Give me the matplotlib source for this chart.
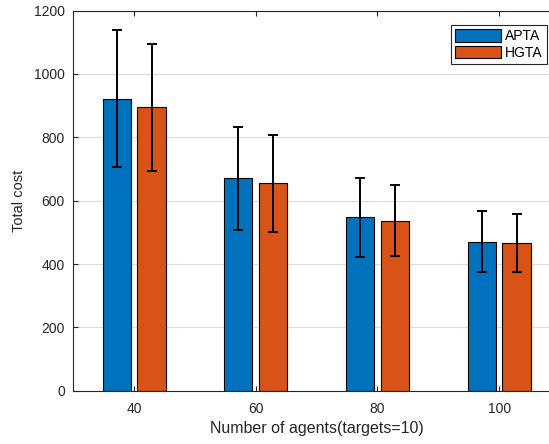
import numpy as np
import matplotlib
matplotlib.use("Agg")
import matplotlib.pyplot as plt

plt.rcParams['font.family'] = ['Liberation Sans', 'DejaVu Sans']

agents = ['40', '60', '80', '100']
apta = [922, 671, 547, 471]
apta_err = [216, 163, 124, 96]
hgta = [895, 655, 537, 467]
hgta_err = [200, 153, 112, 91]

blue = '#0072BD'
orange = '#D95319'
dark = '#262626'

fig = plt.figure(figsize=(5.49, 4.44), dpi=100)
ax = fig.add_axes([0.1335, 0.12, 0.8865, 0.856])

x = np.arange(1, len(agents) + 1)
off = 0.1435
w = 0.232

ax.bar(x - off, apta, w, color=blue, edgecolor='black', linewidth=0.8, label='APTA', zorder=2)
ax.bar(x + off, hgta, w, color=orange, edgecolor='black', linewidth=0.8, label='HGTA', zorder=2)
ax.errorbar(x - off, apta, yerr=apta_err, fmt='none', ecolor='black', elinewidth=1.4, capsize=3.4, capthick=1.4, zorder=3)
ax.errorbar(x + off, hgta, yerr=hgta_err, fmt='none', ecolor='black', elinewidth=1.4, capsize=3.4, capthick=1.4, zorder=3)

ax.set_xlim(0.5, 4.5)
ax.set_ylim(0, 1200)
ax.set_xticks(x)
ax.set_xticklabels(agents)
ax.set_yticks(np.arange(0, 1201, 200))
ax.yaxis.grid(True, color='#dcdcdc', linewidth=0.8, zorder=0)
ax.set_axisbelow(True)

ax.tick_params(direction='in', length=3.5, width=0.8, colors=dark, labelsize=10,
               top=True, right=True)
ax.tick_params(axis='x', pad=8)
ax.tick_params(axis='y', pad=6)
for s in ax.spines.values():
    s.set_color(dark)
    s.set_linewidth(0.8)

ax.set_xlabel('Number of agents(targets=10)', fontsize=11.5, color=dark, labelpad=4)
ax.set_ylabel('Total cost', fontsize=10.5, color=dark, labelpad=6)

leg = ax.legend(loc='upper right', fontsize=10,
                fancybox=False, edgecolor=dark, framealpha=1, borderpad=0.3,
                handlelength=3.3, handleheight=1.0, handletextpad=0.3, labelspacing=0.2,
                borderaxespad=0)
# legend corner in figure pixel coords
leg.set_bbox_to_anchor((547 / 549, (444 - 25) / 444), transform=fig.transFigure)
leg.get_frame().set_linewidth(0.8)

fig.savefig('out.png', dpi=100)
plt.close()
